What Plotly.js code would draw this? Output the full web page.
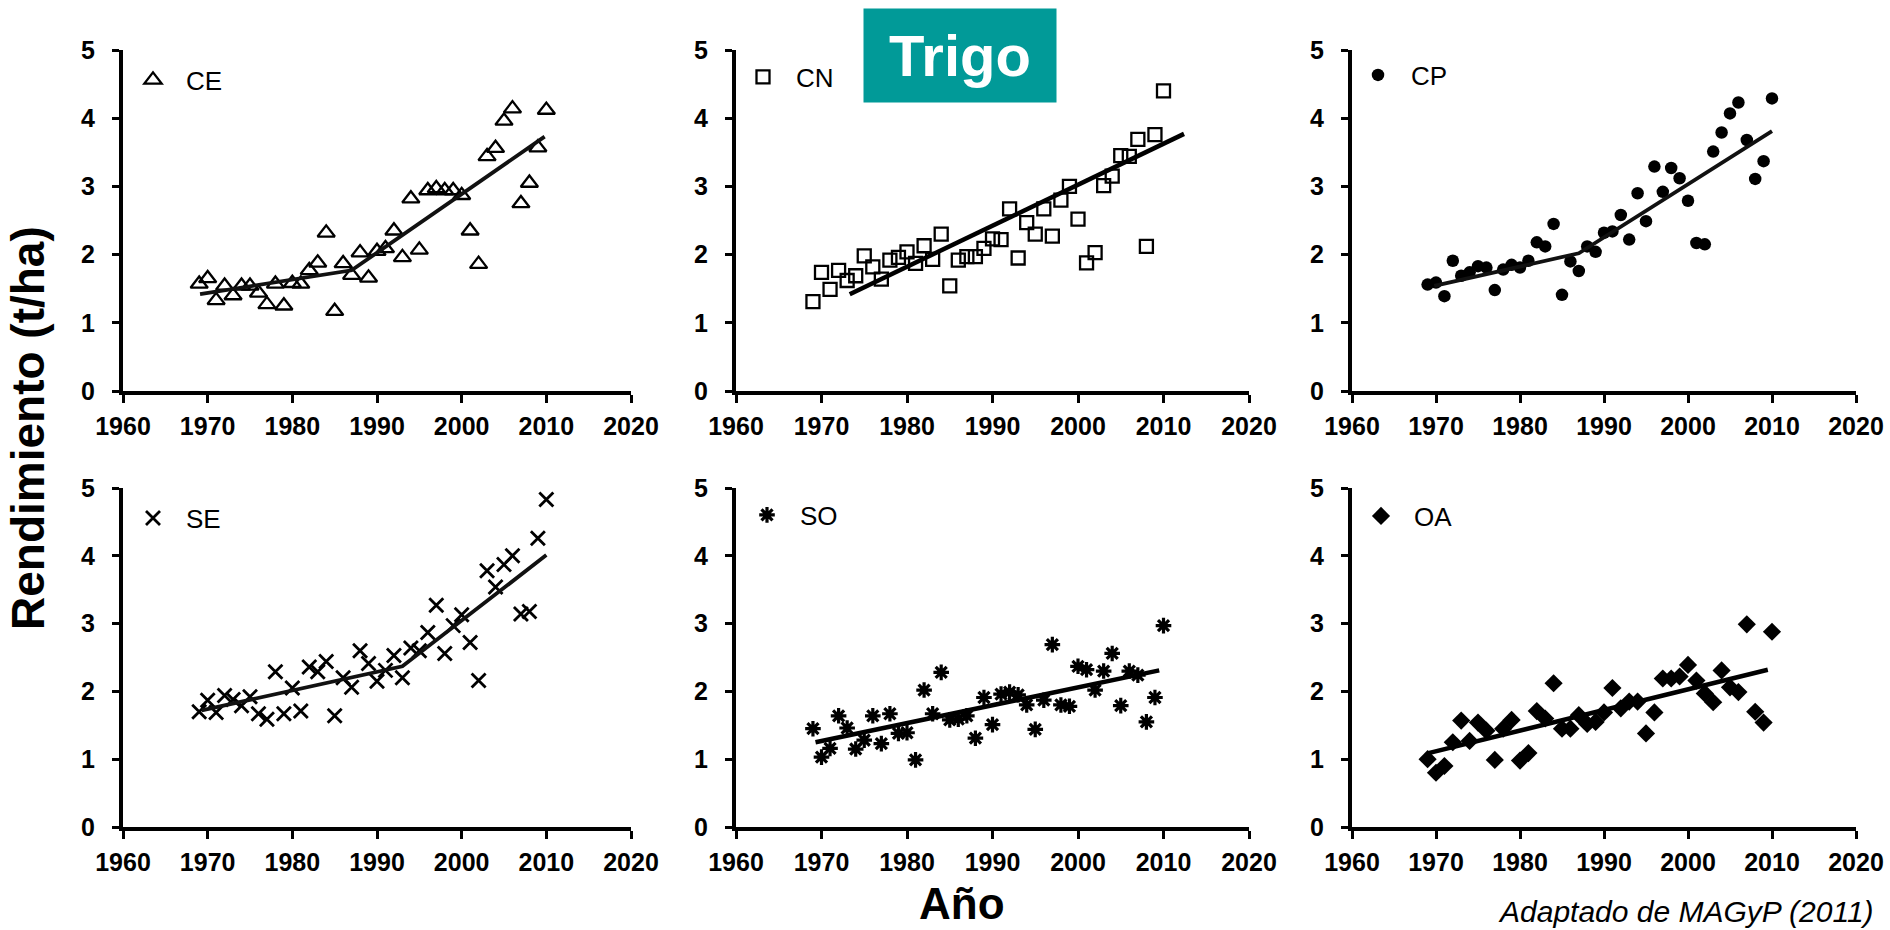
<!DOCTYPE html>
<html>
<head>
<meta charset="utf-8">
<script src="https://cdn.plot.ly/plotly-3.0.1.min.js"></script>
<style>html,body{margin:0;padding:0;background:#fff;}#chart{width:1890px;height:930px;}</style>
</head>
<body>
<div id="chart"></div>
<script>
// ---- data ----
const years = [1969,1970,1971,1972,1973,1974,1975,1976,1977,1978,1979,1980,1981,1982,1983,1984,1985,1986,1987,1988,1989,1990,1991,1992,1993,1994,1995,1996,1997,1998,1999,2000,2001,2002,2003,2004,2005,2006,2007,2008,2009,2010];

const regionNames = ["CE","CN","CP","SE","SO","OA"];

const ceYield = [1.57,1.65,1.33,1.54,1.40,1.54,1.54,1.44,1.27,1.57,1.25,1.58,1.57,1.77,1.88,2.32,1.17,1.87,1.70,2.03,1.66,2.05,2.09,2.35,1.96,2.82,2.07,2.94,2.97,2.94,2.94,2.87,2.35,1.86,3.44,3.56,3.96,4.14,2.75,3.05,3.57,4.12];
const cnYield = [1.31,1.74,1.49,1.77,1.62,1.69,1.98,1.82,1.64,1.92,1.96,2.04,1.87,2.13,1.93,2.30,1.54,1.92,1.97,1.97,2.09,2.23,2.22,2.67,1.95,2.47,2.30,2.67,2.27,2.80,3.00,2.52,1.88,2.03,3.01,3.15,3.45,3.44,3.69,2.12,3.76,4.40];
const cpYield = [1.56,1.59,1.39,1.91,1.69,1.74,1.83,1.81,1.48,1.78,1.85,1.81,1.91,2.18,2.12,2.45,1.41,1.90,1.76,2.12,2.04,2.32,2.34,2.58,2.22,2.90,2.49,3.29,2.92,3.27,3.12,2.79,2.17,2.15,3.51,3.79,4.07,4.23,3.68,3.11,3.37,4.29];
const seYield = [1.70,1.87,1.69,1.94,1.88,1.79,1.92,1.67,1.59,2.29,1.67,2.05,1.71,2.36,2.29,2.44,1.64,2.20,2.06,2.60,2.41,2.15,2.31,2.53,2.20,2.64,2.60,2.87,3.27,2.56,2.97,3.13,2.72,2.16,3.78,3.54,3.87,4.00,3.14,3.18,4.26,4.83];
const soYield = [1.45,1.03,1.16,1.64,1.46,1.15,1.28,1.64,1.23,1.67,1.38,1.39,0.99,2.02,1.67,2.28,1.58,1.59,1.64,1.31,1.91,1.51,1.96,1.99,1.95,1.80,1.44,1.87,2.69,1.80,1.78,2.37,2.32,2.02,2.30,2.56,1.79,2.30,2.24,1.55,1.91,2.97];
const oaYield = [1.00,0.80,0.90,1.25,1.57,1.27,1.54,1.42,0.99,1.45,1.58,0.98,1.09,1.71,1.60,2.12,1.45,1.45,1.65,1.52,1.55,1.69,2.05,1.75,1.85,1.85,1.38,1.69,2.19,2.19,2.22,2.39,2.16,1.97,1.84,2.31,2.06,1.99,2.99,1.70,1.54,2.88];

// fitted trend lines (break points)
const ceTrendX = [1969.1, 1987.0, 2009.8];
const ceTrendY = [1.42, 1.77, 3.73];
const cnTrendX = [1973.3, 2012.4];
const cnTrendY = [1.42, 3.77];
const cpTrendX = [1969.8, 1987.0, 2010.0];
const cpTrendY = [1.54, 2.02, 3.81];
const seTrendX = [1969.3, 1993.0, 2010.0];
const seTrendY = [1.72, 2.37, 4.01];
const soTrendX = [1969.3, 2009.5];
const soTrendY = [1.25, 2.31];
const oaTrendX = [1969.1, 2009.5];
const oaTrendY = [1.09, 2.32];

const xTickVals = [1960,1970,1980,1990,2000,2010,2020];
const yTickVals = [0,1,2,3,4,5];

const titleText = "Trigo";
const yTitleText = "Rendimiento (t/ha)";
const xTitleText = "Año";
const sourceText = "Adaptado de MAGyP (2011)";

// ---- styles ----
const FONT = "Liberation Sans, Arial, sans-serif";
const seriesYields = [ceYield, cnYield, cpYield, seYield, soYield, oaYield];
const trendX = [ceTrendX, cnTrendX, cpTrendX, seTrendX, soTrendX, oaTrendX];
const trendY = [ceTrendY, cnTrendY, cpTrendY, seTrendY, soTrendY, oaTrendY];
const markerStyles = [
  {symbol:'triangle-up-open', size:15, color:'#000', line:{color:'#000', width:2.3}},
  {symbol:'square-open', size:13, color:'#000', line:{color:'#000', width:2.3}},
  {symbol:'circle', size:12.5, color:'#000', line:{width:0}},
  {symbol:'x-thin-open', size:14, color:'#000', line:{color:'#000', width:2.8}},
  {symbol:'asterisk-open', size:13, color:'#000', line:{color:'#000', width:3.2}},
  {symbol:'diamond', size:14, color:'#000', line:{width:0}}
];
const trendStyles = [
  {color:'#111', width:3.8}, {color:'#000', width:4.5}, {color:'#111', width:3.8},
  {color:'#111', width:3.8}, {color:'#000', width:4.5}, {color:'#000', width:4.5}
];

const W = 1890, H = 930;
const colPx = [[123,631],[736,1249],[1352,1856]];
const rowPx = [[50,391],[488,827]];
const legendPx = [[153,78],[763,75],[1378,73],[153,516],[767,513],[1381,514]];

const traces = [];
const layout = {
  width: W, height: H,
  margin:{l:0,r:0,t:0,b:0},
  paper_bgcolor:'#fff', plot_bgcolor:'rgba(0,0,0,0)',
  font:{family:FONT, color:'#000'},
  annotations: [],
  showlegend: true
};

for (let i = 0; i < 6; i++) {
  const n = i === 0 ? '' : String(i+1);
  const col = colPx[i % 3], row = rowPx[Math.floor(i/3)];
  const legName = 'legend' + n;
  traces.push({
    type:'scatter', mode:'markers', x: years, y: seriesYields[i],
    xaxis:'x'+n, yaxis:'y'+n, name: regionNames[i],
    marker: markerStyles[i], cliponaxis:false, legend: legName, showlegend:true
  });
  traces.push({
    type:'scatter', mode:'lines', x: trendX[i], y: trendY[i],
    xaxis:'x'+n, yaxis:'y'+n, line: trendStyles[i], showlegend:false, hoverinfo:'skip'
  });
  layout['xaxis'+n] = {
    domain:[col[0]/W, col[1]/W], anchor:'y'+n, range:[1960,2020],
    tickvals: xTickVals, ticktext: xTickVals.map(String),
    ticks:'outside', ticklen:8, tickwidth:3, tickcolor:'#000',
    showline:true, linewidth:4, linecolor:'#000', showgrid:false, zeroline:false,
    tickfont:{family:FONT, size:25, weight:'bold', color:'#000'}, ticklabelstandoff:2, fixedrange:true
  };
  layout['yaxis'+n] = {
    domain:[1-row[1]/H, 1-row[0]/H], anchor:'x'+n, range:[0,5],
    tickvals: yTickVals, ticktext: yTickVals.map(String),
    ticks:'outside', ticklen:7, tickwidth:3, tickcolor:'#000',
    showline:true, linewidth:4, linecolor:'#000', showgrid:false, zeroline:false,
    tickfont:{family:FONT, size:25, weight:'bold', color:'#000'}, ticklabelstandoff:12, fixedrange:true
  };
  const lp = legendPx[i];
  layout[legName] = {
    x:(lp[0]-33)/W, y:1-(lp[1]+2)/H, xanchor:'left', yanchor:'middle',
    font:{family:FONT, size:26, color:'#000'}, bgcolor:'rgba(0,0,0,0)', borderwidth:0,
    itemwidth:56, itemclick:false, itemdoubleclick:false
  };
}

layout.annotations.push(
  {text:titleText, xref:'paper', yref:'paper', x:960/W, y:1-55.5/H, xanchor:'center', yanchor:'middle',
   showarrow:false, width:192, height:93, bgcolor:'#019a98', borderpad:0,
   font:{family:FONT, size:58, weight:'bold', color:'#fff'}},
  {text:yTitleText, xref:'paper', yref:'paper', x:28/W, y:1-428/H, xanchor:'center', yanchor:'middle',
   textangle:-90, showarrow:false, font:{family:FONT, size:46, weight:'bold', color:'#000'}},
  {text:xTitleText, xref:'paper', yref:'paper', x:962/W, y:0, xanchor:'center', yanchor:'bottom',
   showarrow:false, font:{family:FONT, size:44, weight:'bold', color:'#000'}},
  {text:'<i>'+sourceText+'</i>', xref:'paper', yref:'paper', x:1496/W, y:0, xanchor:'left', yanchor:'bottom',
   showarrow:false, font:{family:FONT, size:30, color:'#000'}}
);

Plotly.newPlot('chart', traces, layout, {displayModeBar:false, staticPlot:true});
</script>
</body>
</html>
